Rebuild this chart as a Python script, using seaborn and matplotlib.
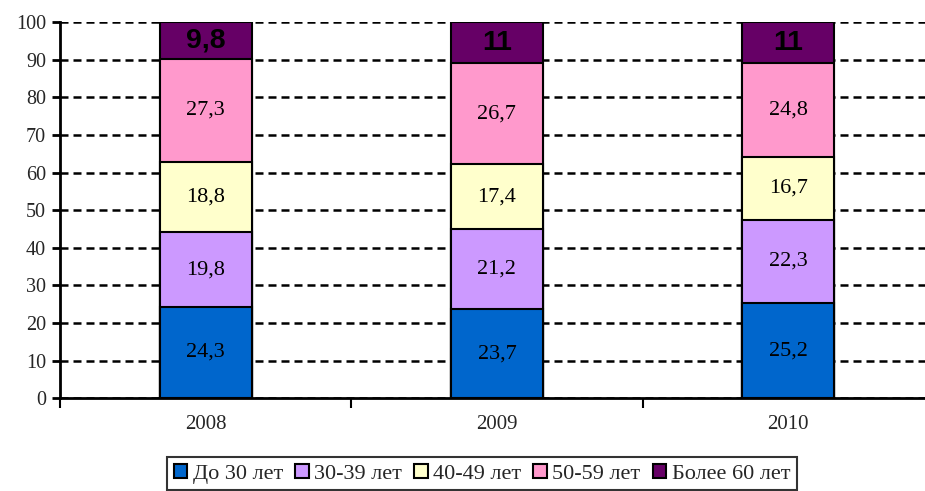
import numpy as np
import pandas as pd
import matplotlib.pyplot as plt
import seaborn as sns
from matplotlib.patches import Patch

sns.set_style('white')
plt.rcParams['font.family'] = ['Liberation Serif', 'DejaVu Serif']

years = ['2008', '2009', '2010']
groups = ['До 30 лет', '30-39 лет', '40-49 лет', '50-59 лет', 'Более 60 лет']
colors = ['#0066CC', '#CC99FF', '#FFFFCC', '#FF99CC', '#660066']

under_30 = [24.3, 23.7, 25.2]
age_30_39 = [19.8, 21.2, 22.3]
age_40_49 = [18.8, 17.4, 16.7]
age_50_59 = [27.3, 26.7, 24.8]
over_60 = [9.8, 11, 11]
top_labels = ['9,8', '11', '11']

series = [under_30, age_30_39, age_40_49, age_50_59, over_60]
df = pd.DataFrame(dict(zip(groups, series)), index=years)
cum = df.cumsum(axis=1)

fig = plt.figure(figsize=(9.25, 4.91), dpi=100)
ax = fig.add_axes([0.065, 0.189, 0.935, 0.766])

# stacked bars: draw cumulative totals from the top segment down
for g, c in reversed(list(zip(groups, colors))):
    sns.barplot(x=years, y=cum[g].values, color=c, width=0.316,
                edgecolor='black', linewidth=1.5, saturation=1, ax=ax, zorder=3)

# segment labels
for i, yr in enumerate(years):
    for j, g in enumerate(groups):
        top = cum.loc[yr, g]
        val = df.loc[yr, g]
        mid = top - val / 2
        if j == len(groups) - 1:
            ax.text(i, mid, top_labels[i], ha='center', va='center', fontsize=20.5,
                    fontweight='bold', family='Liberation Sans', color='black', zorder=4)
        else:
            ax.text(i, mid, f'{val:.1f}'.replace('.', ','), ha='center', va='center',
                    fontsize=16, color='black', zorder=4)

ax.set_yticks(np.arange(0, 101, 10))
ax.set_xticks([-0.5, 0.5, 1.5, 2.5], minor=True)
ax.set_ylim(0, 100)
ax.set_xlim(-0.5, 2.47)
ax.yaxis.grid(True, color='black', linestyle=(0, (3.2, 2)), linewidth=1.8)
ax.set_axisbelow(True)

ax.spines['top'].set_visible(False)
ax.spines['right'].set_visible(False)
for s in ['left', 'bottom']:
    ax.spines[s].set_linewidth(2)
    ax.spines[s].set_color('black')

ax.tick_params(axis='y', which='major', left=True, direction='out', length=6, width=2,
               color='black', labelsize=14.5, pad=4)
ax.tick_params(axis='x', which='major', bottom=False, length=0, labelsize=15, pad=12)
ax.tick_params(axis='x', which='minor', bottom=True, direction='out', length=7, width=1.5,
               color='black')
ax.set_xlabel('')
ax.set_ylabel('')

handles = [Patch(facecolor=c, edgecolor='black', linewidth=1.5, label=g) for g, c in zip(groups, colors)]
leg = fig.legend(handles=handles, loc='center', bbox_to_anchor=(0.521, 0.035), ncol=5,
                 fontsize=16, frameon=True, fancybox=False, handlelength=0.6, handleheight=0.6,
                 handletextpad=0.25, columnspacing=0.55, borderpad=0.3, borderaxespad=0)
leg.get_frame().set_edgecolor('black')
leg.get_frame().set_linewidth(1.5)

fig.savefig('out.png', dpi=100)
